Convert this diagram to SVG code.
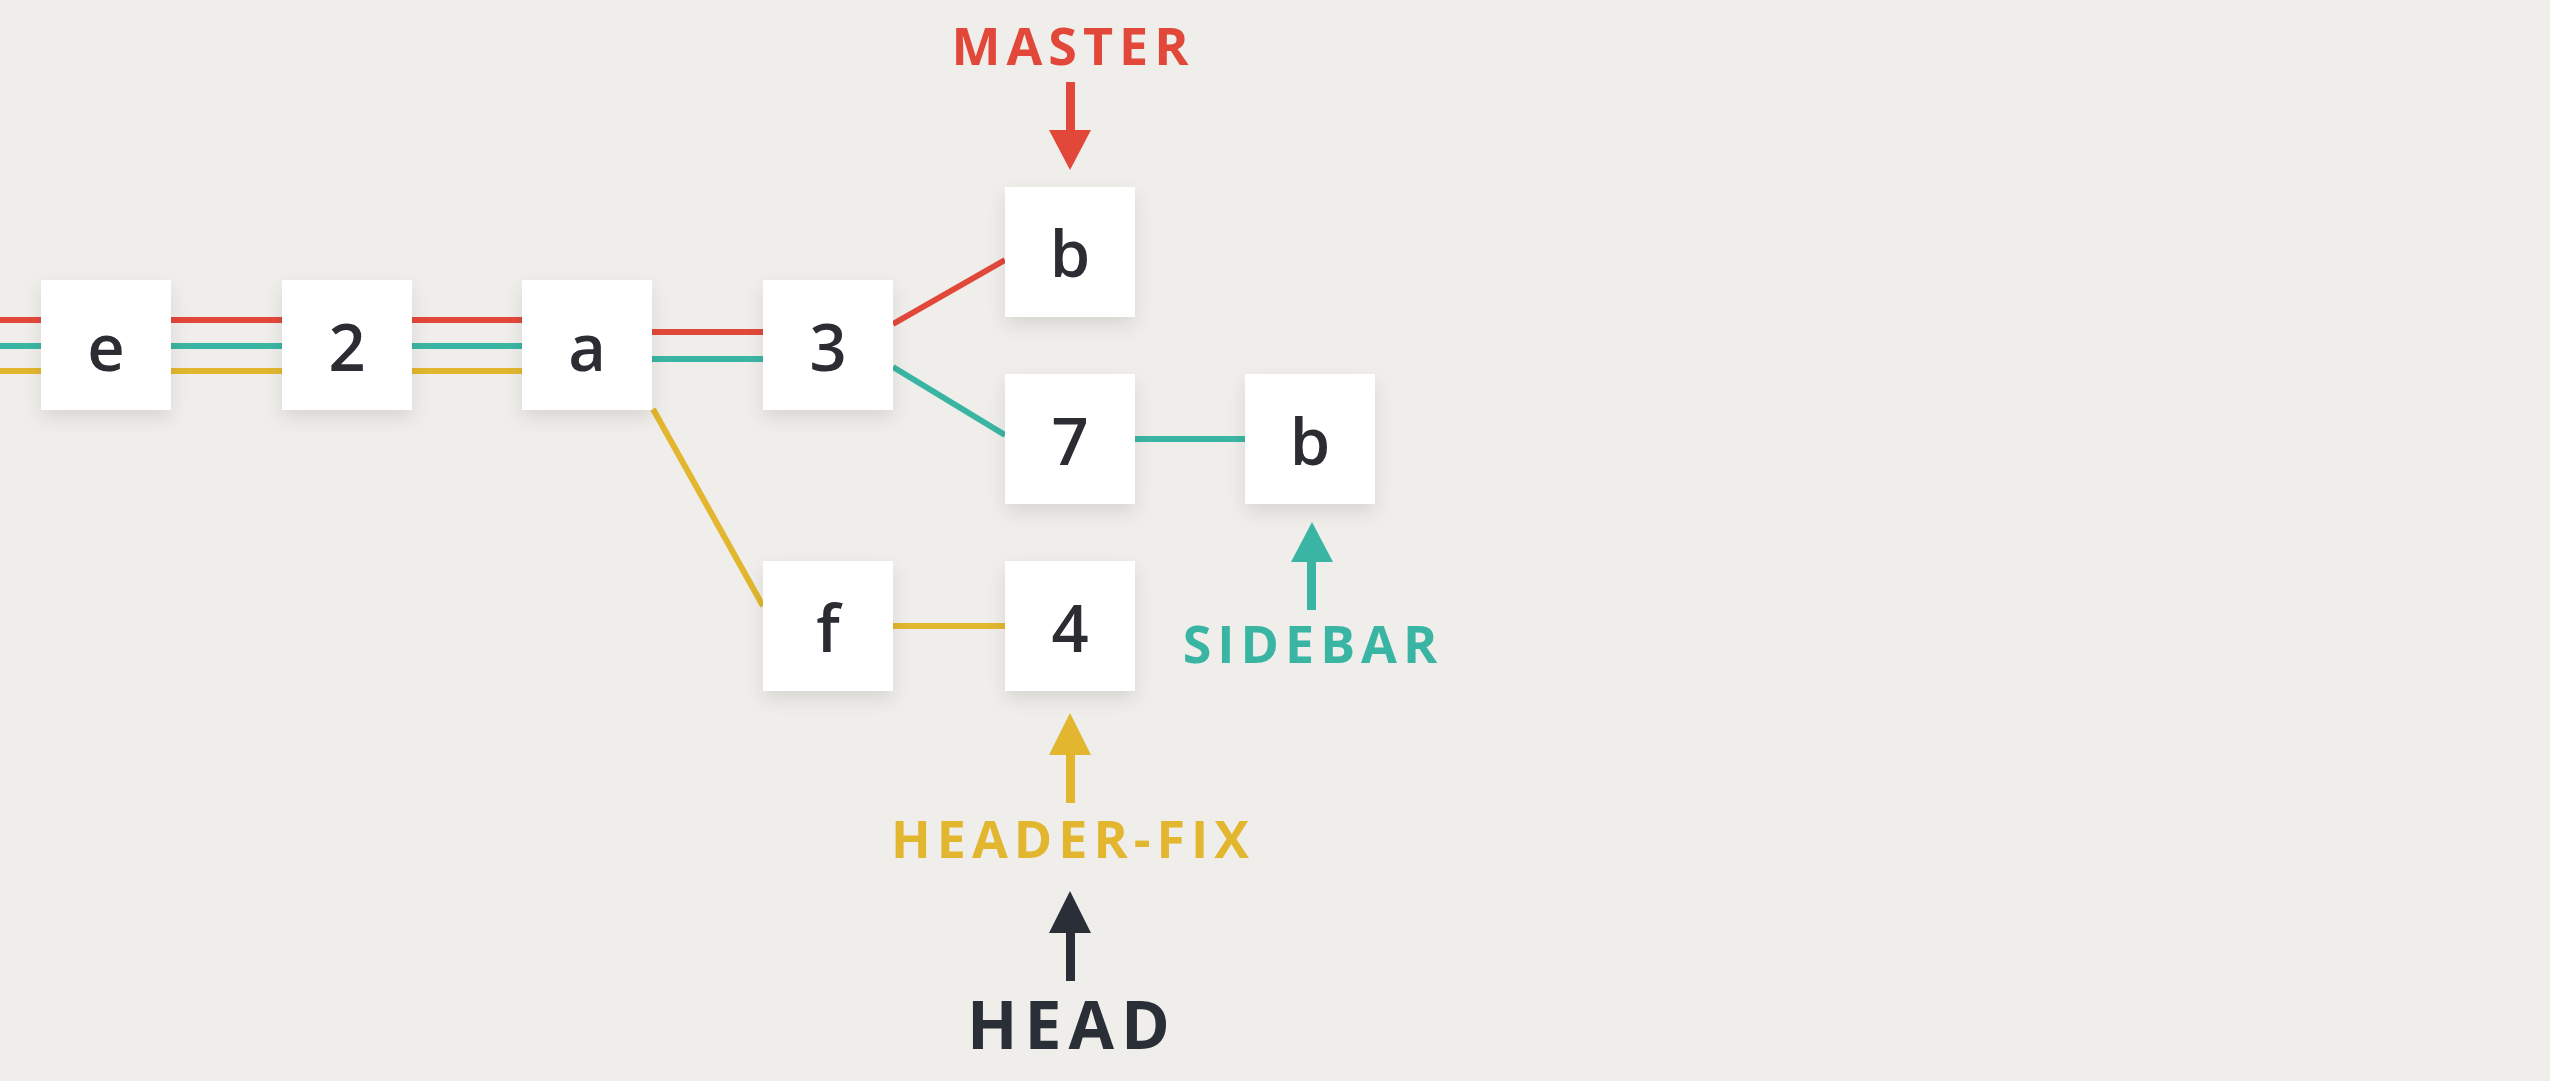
<svg xmlns="http://www.w3.org/2000/svg" width="2550" height="1081" viewBox="0 0 2550 1081">
<style>
.bg{fill:#efeeea}
.box{fill:#ffffff;filter:url(#sh)}
.lbl{font-family:"Open Sans","Noto Sans",sans-serif;font-size:65px;font-weight:600;fill:#2b2d33;text-anchor:middle}
.ref{font-family:"Open Sans","Noto Sans",sans-serif;font-weight:700;font-size:52px;letter-spacing:6px;text-anchor:middle}
.red{stroke:#e2483a}
.teal{stroke:#3bb5a3}
.yel{stroke:#e2b62e}
.ln{stroke-width:6;fill:none}
</style>
<defs>
<filter id="sh" x="-30%" y="-30%" width="160%" height="170%">
<feDropShadow dx="0" dy="8" stdDeviation="9" flood-color="#000" flood-opacity="0.10"/>
</filter>
</defs>
<rect class="bg" x="0" y="0" width="2550" height="1081"/>
<g id="connectors">
<line class="ln red" x1="0" y1="320" x2="41" y2="320"/>
<line class="ln teal" x1="0" y1="346" x2="41" y2="346"/>
<line class="ln yel" x1="0" y1="371" x2="41" y2="371"/>
<line class="ln red" x1="171" y1="320" x2="282" y2="320"/>
<line class="ln teal" x1="171" y1="346" x2="282" y2="346"/>
<line class="ln yel" x1="171" y1="371" x2="282" y2="371"/>
<line class="ln red" x1="412" y1="320" x2="522" y2="320"/>
<line class="ln teal" x1="412" y1="346" x2="522" y2="346"/>
<line class="ln yel" x1="412" y1="371" x2="522" y2="371"/>
<line class="ln red" x1="652" y1="332" x2="763" y2="332"/>
<line class="ln teal" x1="652" y1="359" x2="763" y2="359"/>
<line class="ln yel" x1="653" y1="409" x2="763" y2="606"/>
<line class="ln red" x1="893" y1="324" x2="1005" y2="260"/>
<line class="ln teal" x1="893" y1="367" x2="1005" y2="435"/>
<line class="ln teal" x1="1135" y1="439" x2="1245" y2="439"/>
<line class="ln yel" x1="893" y1="626" x2="1005" y2="626"/>
</g>
<g id="node-e"><rect class="box" x="41" y="280" width="130" height="130"/><text class="lbl" x="106" y="371">e</text></g>
<g id="node-2"><rect class="box" x="282" y="280" width="130" height="130"/><text class="lbl" x="347" y="371">2</text></g>
<g id="node-a"><rect class="box" x="522" y="280" width="130" height="130"/><text class="lbl" x="587" y="371">a</text></g>
<g id="node-3"><rect class="box" x="763" y="280" width="130" height="130"/><text class="lbl" x="828" y="371">3</text></g>
<g id="node-b1"><rect class="box" x="1005" y="187" width="130" height="130"/><text class="lbl" x="1070" y="277">b</text></g>
<g id="node-7"><rect class="box" x="1005" y="374" width="130" height="130"/><text class="lbl" x="1070" y="465">7</text></g>
<g id="node-b2"><rect class="box" x="1245" y="374" width="130" height="130"/><text class="lbl" x="1310" y="465">b</text></g>
<g id="node-f"><rect class="box" x="763" y="561" width="130" height="130"/><text class="lbl" x="828" y="652">f</text></g>
<g id="node-4"><rect class="box" x="1005" y="561" width="130" height="130"/><text class="lbl" x="1070" y="652">4</text></g>
<g id="ref-master">
<text class="ref" x="1073" y="65" fill="#e2483a">MASTER</text>
<rect x="1066" y="82" width="9" height="50" fill="#e2483a"/>
<polygon points="1049,130 1091,130 1070,170" fill="#e2483a"/>
</g>
<g id="ref-sidebar">
<text class="ref" x="1313" y="663" fill="#3bb5a3">SIDEBAR</text>
<rect x="1307" y="558" width="9" height="52" fill="#3bb5a3"/>
<polygon points="1291,562 1333,562 1312,522" fill="#3bb5a3"/>
</g>
<g id="ref-headerfix">
<text class="ref" x="1073" y="858" fill="#e2b62e">HEADER-FIX</text>
<rect x="1066" y="752" width="9" height="51" fill="#e2b62e"/>
<polygon points="1049,755 1091,755 1070,713" fill="#e2b62e"/>
</g>
<g id="ref-head">
<text class="ref" x="1072" y="1049" fill="#2a2e37" style="font-size:66px;letter-spacing:7px">HEAD</text>
<rect x="1066" y="930" width="9" height="51" fill="#2a2e37"/>
<polygon points="1049,933 1091,933 1070,891" fill="#2a2e37"/>
</g>
</svg>
